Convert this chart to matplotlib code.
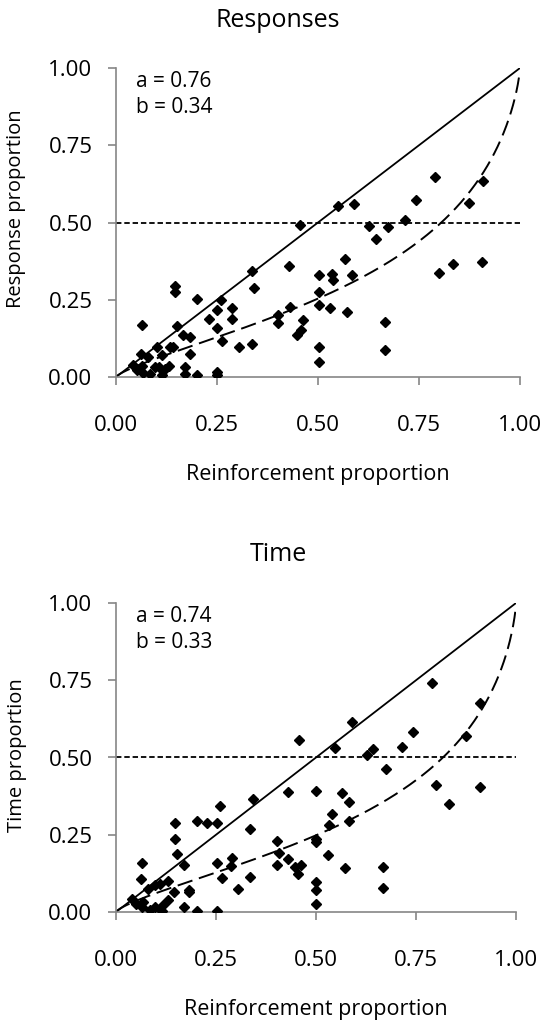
import numpy as np
from matplotlib import pyplot as plt

plt.rcParams['font.family'] = ['Open Sans', 'DejaVu Sans']

# Responses panel
resp_x = [0.455, 0.336, 0.429, 0.342, 0.146, 0.146, 0.201, 0.259, 0.251, 0.286,
          0.286, 0.065, 0.152, 0.229, 0.251, 0.167, 0.183, 0.402, 0.402, 0.431,
          0.458, 0.449, 0.263, 0.305, 0.336, 0.182, 0.102, 0.061, 0.080, 0.113,
          0.134, 0.140, 0.043, 0.064, 0.051, 0.068, 0.084, 0.097, 0.107, 0.113,
          0.132, 0.121, 0.171, 0.171, 0.201, 0.251, 0.251,
          0.549, 0.589, 0.789, 0.742, 0.909, 0.874, 0.626, 0.674, 0.715, 0.644,
          0.567, 0.502, 0.534, 0.538, 0.583, 0.502, 0.502, 0.530, 0.572, 0.464,
          0.502, 0.502, 0.667, 0.667, 0.800, 0.833, 0.907]
resp_y = [0.492, 0.342, 0.358, 0.288, 0.293, 0.274, 0.252, 0.248, 0.217, 0.223,
          0.187, 0.168, 0.166, 0.187, 0.157, 0.136, 0.130, 0.201, 0.174, 0.226,
          0.152, 0.136, 0.116, 0.096, 0.106, 0.076, 0.098, 0.076, 0.065, 0.071,
          0.096, 0.098, 0.038, 0.035, 0.022, 0.013, 0.011, 0.033, 0.033, 0.005,
          0.035, 0.027, 0.033, 0.011, 0.005, 0.016, 0.005,
          0.554, 0.559, 0.646, 0.572, 0.635, 0.562, 0.489, 0.486, 0.508, 0.448,
          0.383, 0.331, 0.333, 0.313, 0.331, 0.274, 0.233, 0.223, 0.210, 0.185,
          0.098, 0.047, 0.179, 0.087, 0.337, 0.367, 0.371]

# Time panel
time_x = [0.458, 0.343, 0.431, 0.260, 0.335, 0.148, 0.203, 0.228, 0.252, 0.148,
          0.153, 0.170, 0.066, 0.062, 0.252, 0.289, 0.288, 0.266, 0.335, 0.306,
          0.402, 0.408, 0.431, 0.402, 0.448, 0.463, 0.456, 0.183, 0.183, 0.145,
          0.131, 0.110, 0.098, 0.081, 0.039, 0.050, 0.064, 0.085, 0.098, 0.110,
          0.118, 0.131, 0.170, 0.203, 0.252, 0.068, 0.114,
          0.589, 0.548, 0.791, 0.910, 0.742, 0.714, 0.642, 0.627, 0.874, 0.674,
          0.500, 0.566, 0.583, 0.539, 0.533, 0.583, 0.500, 0.500, 0.531, 0.573,
          0.500, 0.500, 0.500, 0.668, 0.668, 0.800, 0.833, 0.910]
time_y = [0.557, 0.365, 0.389, 0.344, 0.270, 0.289, 0.294, 0.289, 0.289, 0.235,
          0.187, 0.151, 0.157, 0.108, 0.159, 0.176, 0.149, 0.110, 0.114, 0.074,
          0.230, 0.192, 0.173, 0.151, 0.146, 0.151, 0.124, 0.072, 0.065, 0.065,
          0.101, 0.092, 0.086, 0.074, 0.043, 0.027, 0.016, 0.005, 0.016, 0.009,
          0.022, 0.038, 0.016, 0.002, 0.002, 0.032, 0.002,
          0.614, 0.532, 0.741, 0.676, 0.584, 0.535, 0.528, 0.508, 0.571, 0.463,
          0.391, 0.384, 0.357, 0.317, 0.281, 0.294, 0.235, 0.227, 0.186, 0.143,
          0.097, 0.070, 0.027, 0.146, 0.079, 0.411, 0.351, 0.405]

panels = [
    ("Responses", "Response proportion", resp_x, resp_y, 0.76, 0.34),
    ("Time", "Time proportion", time_x, time_y, 0.74, 0.33),
]

W, H = 543, 1021
fig = plt.figure(figsize=(W / 100, H / 100), dpi=100)

grey = '#868686'
boxes = [(116, 68, 404, 309), (116, 603, 400, 309)]
title_base = [27, 561]
ylab_center = [0.544, 0.508]

for i, (title, ylab, xs, ys, a, b) in enumerate(panels):
    left, top, w, h = boxes[i]
    ax = fig.add_axes([left / W, 1 - (top + h) / H, w / W, h / H])

    # fitted generalized matching curve
    r = np.linspace(0.0005, 0.9995, 600)
    odds = b * (r / (1 - r)) ** a
    fit = odds / (1 + odds)

    ax.plot([0, 1], [0, 1], color='black', lw=1.3, zorder=2)
    ax.plot([0, 1], [0.5, 0.5], color='black', lw=1.3, dashes=(3, 1.6), zorder=2)
    ax.plot(r, fit, color='black', lw=1.4, dashes=(8, 3.5), zorder=2)
    ax.plot(xs, ys, linestyle='none', marker='D', ms=5, color='black', zorder=3)

    ax.set_xlim(0, 1)
    ax.set_ylim(0, 1)
    ax.set_xticks([0, 0.25, 0.5, 0.75, 1.0])
    ax.set_yticks([0, 0.25, 0.5, 0.75, 1.0])
    ax.set_xticklabels(['0.00', '0.25', '0.50', '0.75', '1.00'])
    ax.set_yticklabels(['0.00', '0.25', '0.50', '0.75', '1.00'])
    for side in ['top', 'right']:
        ax.spines[side].set_visible(False)
    for side in ['left', 'bottom']:
        ax.spines[side].set_color(grey)
        ax.spines[side].set_linewidth(1.2)
    ax.tick_params(axis='both', which='major', labelsize=16, length=6,
                   width=1.2, color=grey, direction='out')
    ax.tick_params(axis='x', pad=21)
    ax.tick_params(axis='y', pad=11)

    ax.set_xlabel('Reinforcement proportion', fontsize=15.5)
    ax.xaxis.set_label_coords(0.5, -0.282)
    ax.set_ylabel(ylab, fontsize=14.5)
    ax.yaxis.set_label_coords(-0.2475, ylab_center[i])
    ax.yaxis.label.set_verticalalignment('center')

    ax.text(0.05, 0.939, 'a = %.2f' % a, transform=ax.transAxes, fontsize=15,
            va='baseline')
    ax.text(0.05, 0.854, 'b = %.2f' % b, transform=ax.transAxes, fontsize=15,
            va='baseline')

    fig.text(278 / W, 1 - title_base[i] / H, title, fontsize=18,
             ha='center', va='baseline')

fig.savefig('out.png', dpi=100)
